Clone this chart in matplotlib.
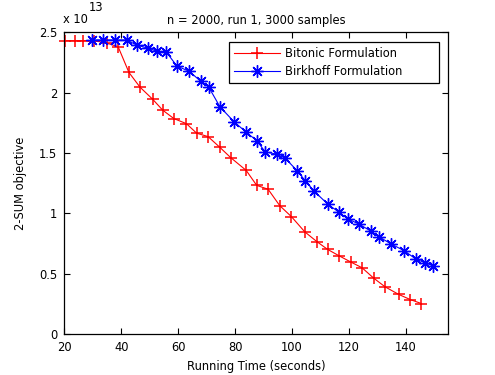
#!/usr/bin/env python3
"""Recreate the n = 2000 2-SUM objective vs running time comparison plot."""

import matplotlib

matplotlib.use("Agg")
import matplotlib.pyplot as plt
from matplotlib.ticker import FuncFormatter

plt.rcParams["font.family"] = ["DejaVu Sans"]
FONT_SIZE = 8.3

# Values; objective in units of 1e13.
BITONIC_T = [20.4, 23.7, 26.7, 30.4, 34.9, 38.9, 42.7, 46.6, 51.0, 54.6,
             58.5, 62.9, 66.5, 70.5, 74.6, 78.5, 83.9, 87.6, 91.6, 95.7,
             99.8, 104.5, 108.7, 112.5, 116.6, 120.6, 124.6, 128.7, 132.7,
             137.5, 141.6, 145.5]
BITONIC_OBJ = [2.43, 2.43, 2.43, 2.43, 2.41, 2.38, 2.167, 2.045, 1.946, 1.854,
               1.785, 1.743, 1.664, 1.636, 1.548, 1.461, 1.356, 1.232, 1.200,
               1.064, 0.973, 0.847, 0.767, 0.702, 0.648, 0.598, 0.550, 0.464,
               0.392, 0.329, 0.286, 0.253]

BIRKHOFF_T = [29.8, 33.7, 37.8, 41.9, 45.6, 49.5, 52.5, 55.9, 59.6, 63.9,
              67.9, 70.7, 74.7, 79.6, 83.9, 87.6, 90.6, 94.6, 97.6, 101.8,
              104.6, 107.7, 112.6, 116.5, 119.6, 123.6, 127.7, 130.7, 134.7,
              139.5, 143.5, 146.8, 149.5]
BIRKHOFF_OBJ = [2.436, 2.436, 2.436, 2.436, 2.392, 2.368, 2.343, 2.334, 2.219,
                2.177, 2.094, 2.047, 1.882, 1.760, 1.672, 1.603, 1.509, 1.491,
                1.457, 1.354, 1.272, 1.186, 1.076, 1.010, 0.954, 0.911, 0.853,
                0.805, 0.748, 0.690, 0.622, 0.590, 0.567]

X_TICKS = [20, 40, 60, 80, 100, 120, 140]
Y_TICKS = [0, 0.5, 1, 1.5, 2, 2.5]
SCALE = 1e13

ASTERISK = (8, 2, 0)


def scaled_formatter(value: float, _position: int) -> str:
    return f"{value / SCALE:g}"


def main() -> None:
    fig = plt.figure(figsize=(4.95, 3.75), dpi=100)
    ax = fig.add_axes([0.13, 0.109, 0.776, 0.805])

    ax.plot(
        BITONIC_T,
        [y * SCALE for y in BITONIC_OBJ],
        color=(1, 0, 0),
        linewidth=0.8,
        marker="+",
        markersize=9.2,
        markeredgewidth=1.1,
        label="Bitonic Formulation",
        clip_on=False,
    )
    ax.plot(
        BIRKHOFF_T,
        [y * SCALE for y in BIRKHOFF_OBJ],
        color=(0, 0, 1),
        linewidth=0.8,
        marker=ASTERISK,
        markersize=8.8,
        markeredgewidth=1.0,
        label="Birkhoff Formulation",
        clip_on=False,
    )

    ax.set_xlim(20, 155)
    ax.set_ylim(0, 2.5 * SCALE)
    ax.set_xticks(X_TICKS)
    ax.set_yticks([y * SCALE for y in Y_TICKS])
    ax.yaxis.set_major_formatter(FuncFormatter(scaled_formatter))
    ax.tick_params(direction="in", length=4, width=0.8, top=True, right=True,
                   labelsize=FONT_SIZE, pad=5)
    for spine in ax.spines.values():
        spine.set_linewidth(0.9)

    ax.set_title("n = 2000, run 1, 3000 samples", fontsize=FONT_SIZE, pad=6)
    ax.set_xlabel("Running Time (seconds)", fontsize=FONT_SIZE, labelpad=4)
    ax.set_ylabel("2-SUM objective", fontsize=FONT_SIZE, labelpad=9)

    ax.text(-0.003, 1.022, "x 10", transform=ax.transAxes,
            fontsize=FONT_SIZE, ha="left", va="bottom")
    ax.text(0.064, 1.062, "13", transform=ax.transAxes, fontsize=FONT_SIZE,
            ha="left", va="bottom")

    legend = ax.legend(
        loc="upper left",
        bbox_to_anchor=(0.4295, 0.839, 0.5465, 0.128),
        mode="expand",
        borderaxespad=0,
        fancybox=False,
        framealpha=1,
        edgecolor="black",
        handlelength=4,
        fontsize=FONT_SIZE,
        borderpad=0.4,
        labelspacing=0.45,
        handletextpad=0.45,
    )
    legend.get_frame().set_linewidth(0.9)

    fig.savefig("out.png", dpi=100)


if __name__ == "__main__":
    main()
